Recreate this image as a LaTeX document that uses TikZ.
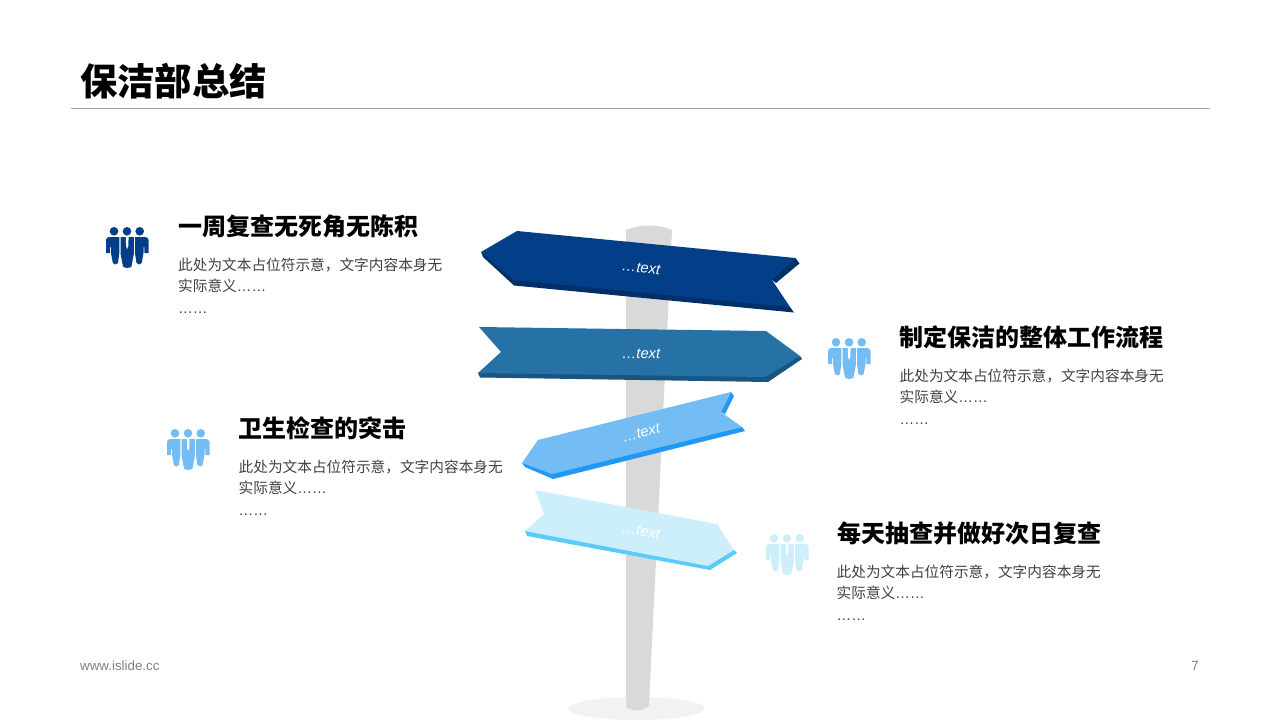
\documentclass[tikz,border=0pt]{standalone}
\usepackage{fontspec}
\setmainfont{Liberation Sans}
\newfontfamily\cjk{Noto Sans CJK SC}
\newfontfamily\lat{Liberation Sans}
\definecolor{navy}{HTML}{033F88}
\definecolor{navyside}{HTML}{022F68}
\definecolor{teal}{HTML}{2672A6}
\definecolor{tealside}{HTML}{1A5580}
\definecolor{sky}{HTML}{74BDF4}
\definecolor{skyside}{HTML}{2198F2}
\definecolor{pale}{HTML}{CDEFFC}
\definecolor{paleside}{HTML}{5ACBFB}
\definecolor{postgrey}{HTML}{D9D9D9}
\definecolor{basegrey}{HTML}{F2F2F2}
\definecolor{bodytext}{HTML}{404040}
\tikzset{
  x=1pt,y=-1pt,
  titletext/.style={anchor=west,inner sep=0pt,font=\cjk\bfseries\fontsize{37.3}{42}\selectfont,text=black},
  headtext/.style={anchor=west,inner sep=0pt,font=\cjk\bfseries\fontsize{24}{28}\selectfont,text=black},
  bodyline/.style={anchor=west,inner sep=0pt,font=\cjk\fontsize{14.67}{18}\selectfont,text=bodytext},
  dotline/.style={anchor=base west,inner sep=0pt,font=\lat\fontsize{14.67}{18}\selectfont,text=bodytext},
  foot/.style={inner sep=0pt,font=\lat\fontsize{13.33}{16}\selectfont,text=black!50},
  signtext/.style={inner sep=0pt,font=\lat\itshape\fontsize{14.67}{18}\selectfont,text=white},
  pics/team/.style={code={
    \fill[#1] (8,4.3) circle (4.3) (21,4.3) circle (4.3) (33.7,4.3) circle (4.3);
    % left figure
    \fill[#1] (0,26) -- (0,13) .. controls (0,11) and (1.5,10) .. (3.5,10) -- (13.3,10) -- (13.3,26) -- (12,36) .. controls (11,38) and (7.5,38) .. (6.8,36) -- (5,26) -- (5,20) -- (4.2,20) -- (4.2,26) -- cycle;
    % right figure
    \fill[#1] (42.5,26) -- (42.5,13) .. controls (42.5,11) and (41,10) .. (39,10) -- (29,10) -- (29,26) -- (30.5,36) .. controls (31.5,38) and (35,38) .. (35.7,36) -- (37.5,26) -- (37.5,20) -- (38.3,20) -- (38.3,26) -- cycle;
    % centre figure
    \fill[#1] (14.6,10) -- (27.8,10) -- (27.8,27) -- (25.5,39.5) .. controls (24,41.3) and (18.5,41.3) .. (17,39.5) -- (14.6,27) -- cycle;
    \fill[white] (19.8,10) -- (22.6,10) -- (22.3,19) -- (21.2,22) -- (20.1,19) -- cycle;
  }}
}
\begin{document}
\begin{tikzpicture}
\useasboundingbox (0,0) rectangle (1280,720);
% title
\node[titletext] (title) at (80,81) {保洁部总结};
\coordinate (ruleL) at (71,108.5);
\coordinate (ruleR) at (1210,108.5);
\draw[black!35,line width=1pt] (ruleL) -- (ruleR);
% post
\fill[basegrey] (636.5,708.5) ellipse [x radius=68, y radius=11.5];
\fill[postgrey] (626,230) .. controls (640,224) and (658,224) .. (672,230) -- (649,705) .. controls (646,711) and (632,712) .. (626,707) -- cycle;
% sign 1
\fill[navyside] (481,252) -- (483,257) -- (514,285.5) -- (794,312.5) -- (790,307) -- (785,302.5) -- (514,276) -- cycle;
\fill[navyside] (795.5,258) -- (799.5,263.5) -- (776,283) -- (772,280) -- (770,278) -- (793,258.5) -- cycle;
\fill[navy] (481,252) -- (517,231) -- (795.5,258) -- (772,280) -- (790,307) -- (514,280) -- cycle;
% sign 2
\fill[tealside] (478,373) -- (480,377.5) -- (768,382) -- (802,359) -- (800,356) -- (765,373) -- (484,369) -- cycle;
\fill[teal] (479,327) -- (766,331) -- (800,356) -- (765,377) -- (478,373) -- (501,352) -- cycle;
% sign 3
\fill[skyside] (522,463) -- (525,467) -- (553,479) -- (745,431) -- (742,427) -- (552,470) -- cycle;
\fill[skyside] (731,392) -- (734,396) -- (725,414) -- (721,412) -- (718,411) -- (728,393.5) -- cycle;
\fill[sky] (538,440) -- (731,392) -- (721,412) -- (742,427) -- (552,474) -- (522,463) -- cycle;
% sign 4
\fill[paleside] (525,531) -- (527,536) -- (710,570) -- (737,553) -- (734,550) -- (708,562) -- (530,528) -- cycle;
\fill[pale] (535,490) -- (717,524) -- (734,550) -- (708,566) -- (525,531) -- (544,514) -- cycle;
% sign labels
\node[signtext,rotate=-5.5] (s1) at (641,268) {…text};
\node[signtext,rotate=-0.5] (s2) at (641,354) {…text};
\node[signtext,rotate=14] (s3) at (641,433) {…text};
\node[signtext,rotate=-10.5] (s4) at (641,531) {…text};
% icons
\pic at (106,227) {team=navy};
\pic at (828,338) {team=sky};
\pic at (167,429) {team=sky};
\pic at (766,534) {team=pale};
% block 1
\node[headtext] (h1) at (178,226.5) {一周复查无死角无陈积};
\node[bodyline] (b1a) at (178,265.5) {此处为文本占位符示意，文字内容本身无};
\node[bodyline] (b1b) at (178,286) {实际意义{\lat ……}};
\node[dotline] (b1c) at (178,313) {……};
% block 2
\node[headtext] (h2) at (899.5,337.5) {制定保洁的整体工作流程};
\node[bodyline] (b2a) at (899.5,376.5) {此处为文本占位符示意，文字内容本身无};
\node[bodyline] (b2b) at (899.5,397) {实际意义{\lat ……}};
\node[dotline] (b2c) at (899.5,424) {……};
% block 3
\node[headtext] (h3) at (238.5,428.5) {卫生检查的突击};
\node[bodyline] (b3a) at (238.5,467) {此处为文本占位符示意，文字内容本身无};
\node[bodyline] (b3b) at (238.5,488) {实际意义{\lat ……}};
\node[dotline] (b3c) at (238.5,515) {……};
% block 4
\node[headtext] (h4) at (837,533.5) {每天抽查并做好次日复查};
\node[bodyline] (b4a) at (836.5,572) {此处为文本占位符示意，文字内容本身无};
\node[bodyline] (b4b) at (836.5,593) {实际意义{\lat ……}};
\node[dotline] (b4c) at (836.5,620) {……};
% footer
\node[foot,anchor=west] (www) at (80,666) {www.islide.cc};
\node[foot,anchor=east] (page) at (1199,666) {7};
\end{tikzpicture}
\end{document}
